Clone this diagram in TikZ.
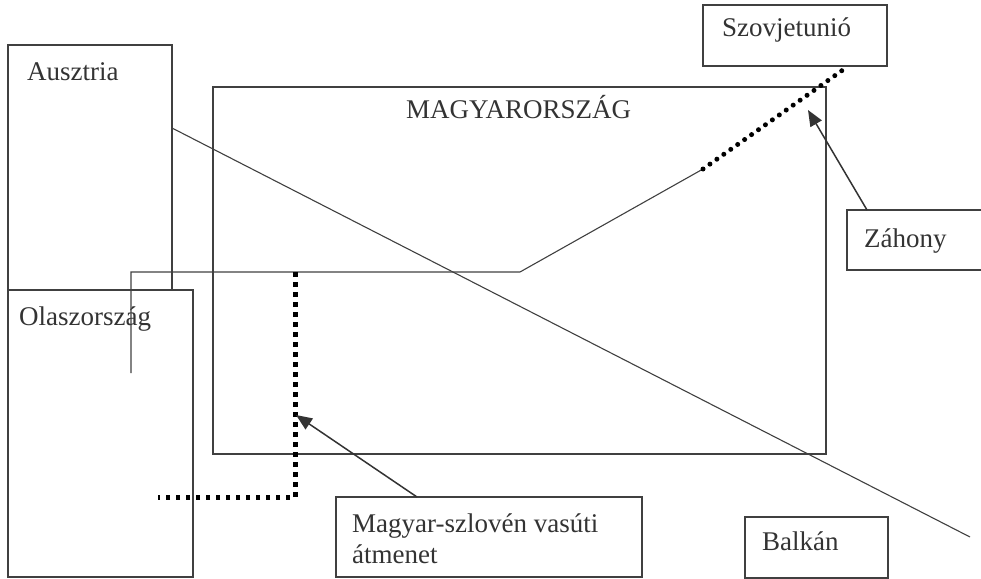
\documentclass[tikz,border=0pt]{standalone}
\usepackage{fontspec}
\setmainfont{Liberation Serif}
\usetikzlibrary{arrows.meta}

\begin{document}
\begin{tikzpicture}[x=1pt, y=-1pt,
    >={Triangle[length=16pt, width=13pt]},
    region/.style={draw=black!75, line width=1.2pt, inner sep=0pt, outer sep=0pt, anchor=north west},
    countrytxt/.style={anchor=base west, inner sep=0pt, text=black!80, font=\fontsize{27}{31}\selectfont, align=left},
    route/.style={draw=black!75, line width=1.1pt},
    rail/.style={line width=5pt, dash pattern=on 4.5pt off 5.5pt},
    border/.style={line width=5pt, line cap=round, dash pattern=on 0pt off 8.5pt},
    pointer/.style={->, draw=black!80, line width=1.5pt}]

  \useasboundingbox (0,0) rectangle (981,578);

  % countries
  \node[region, minimum width=164, minimum height=245] (ausztria) at (8,45)   {};
  \node[region, minimum width=185, minimum height=287] (olasz)    at (8,290)  {};
  \node[region, minimum width=613, minimum height=367] (magyar)   at (213,87) {};
  \node[region, minimum width=184, minimum height=61]  (szovjet)  at (703,5)  {};
  \node[region, minimum width=150, minimum height=60]  (zahony)   at (847,210){};
  \node[region, minimum width=306, minimum height=80]  (szloven)  at (336,497){};
  \node[region, minimum width=143, minimum height=61]  (balkan)   at (745,517){};

  % names
  \node[countrytxt] (ausztriaTxt) at (27,80)   {Ausztria};
  \node[countrytxt] (olaszTxt)    at (19,325)  {Olaszország};
  \node[countrytxt] (magyarTxt)   at (406,118) {MAGYARORSZÁG};
  \node[countrytxt] (szovjetTxt)  at (722,37)  {Szovjetunió};
  \node[countrytxt] (zahonyTxt)   at (864,247) {Záhony};
  \node[countrytxt] (szlovenTxt)  at (352,563) {Magyar-szlovén vasúti\\átmenet};
  \node[countrytxt] (balkanTxt)   at (762,550) {Balkán};

  % route points
  \coordinate (diagA) at (ausztria.north east |- 0,128);
  \coordinate (diagB) at (970,537);
  \coordinate (r1) at (131,373);
  \coordinate (r2) at (131,272);
  \coordinate (r3) at (520,272);
  \coordinate (r4) at (703,169);
  \coordinate (r5) at (847,67);
  \coordinate (s1) at (295,272);
  \coordinate (s2) at (295,497);
  \coordinate (s3) at (158,497);
  \coordinate (zTip) at (808,110);
  \coordinate (sTip) at (296,415);

  \draw[route] (diagA) -- (diagB);
  \draw[route] (r1) -- (r2) -- (r3) -- (r4);
  \draw[border] (r4) -- (r5);
  \draw[rail] (s1) -- (s2) -- (s3);

  \draw[pointer] (zahony.north west -| 867,0) -- (zTip);
  \draw[pointer] (szloven.north west -| 417,0) -- (sTip);
\end{tikzpicture}
\end{document}
